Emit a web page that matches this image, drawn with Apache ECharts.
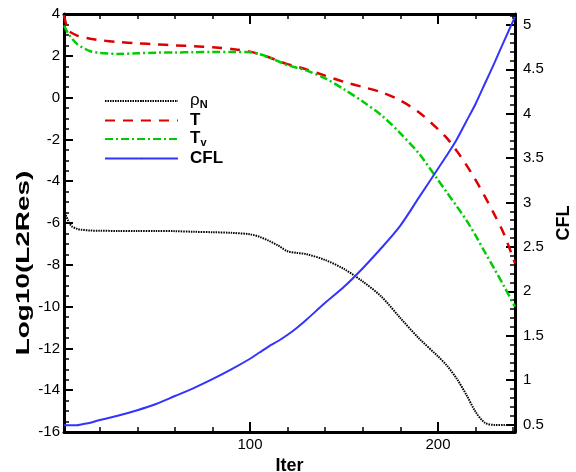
<!DOCTYPE html>
<html>
<head>
<meta charset="utf-8">
<script src="https://cdn.jsdelivr.net/npm/echarts@6/dist/echarts.min.js"></script>
<style>
  html, body { margin: 0; padding: 0; background: #fff; }
  #chart { width: 576px; height: 472px; }
</style>
</head>
<body>
<div id="chart"></div>
<script>
// Residual history: iteration numbers and the quantities sampled at them
const iters = [1, 3, 5, 8, 10, 15, 20, 30, 40, 50, 60, 70, 80, 90, 100, 105, 110, 115, 120, 125,
               130, 140, 150, 160, 170, 180, 190, 200, 205, 210, 215, 220, 225, 230, 235, 241];
const rhoN = [-5.4, -5.85, -6.15, -6.28, -6.32, -6.36, -6.37, -6.38, -6.38, -6.38, -6.39, -6.42,
              -6.44, -6.47, -6.54, -6.66, -6.85, -7.08, -7.35, -7.43, -7.49, -7.77, -8.2, -8.8,
              -9.53, -10.55, -11.53, -12.38, -12.85, -13.45, -14.2, -15.03, -15.56, -15.66, -15.66, -15.66];
const tRes = [3.95, 3.25, 3.1, 2.97, 2.91, 2.82, 2.75, 2.66, 2.6, 2.55, 2.5, 2.46, 2.41, 2.33, 2.2,
              2.08, 1.93, 1.76, 1.6, 1.48, 1.35, 1.05, 0.75, 0.51, 0.25, -0.14, -0.71, -1.51, -1.96,
              -2.55, -3.21, -3.94, -4.74, -5.59, -6.5, -7.93];
const tvRes = [3.45, 3.1, 2.85, 2.56, 2.44, 2.22, 2.14, 2.09, 2.12, 2.15, 2.16, 2.17, 2.18, 2.18, 2.17,
               2.08, 1.93, 1.74, 1.55, 1.42, 1.3, 0.92, 0.4, -0.19, -0.85, -1.71, -2.69, -3.94, -4.57,
               -5.2, -5.85, -6.59, -7.4, -8.19, -9.0, -10.0];
const cfl = [0.49, 0.49, 0.49, 0.49, 0.5, 0.52, 0.55, 0.6, 0.66, 0.73, 0.82, 0.91, 1.01, 1.12, 1.24,
             1.31, 1.38, 1.44, 1.51, 1.59, 1.68, 1.87, 2.05, 2.26, 2.49, 2.74, 3.06, 3.38, 3.54, 3.71,
             3.91, 4.11, 4.34, 4.57, 4.81, 5.09];

const FONT = 'Liberation Sans, Arial, sans-serif';
const ITER_MIN = 1, ITER_MAX = 241;
const RES_MIN = -16, RES_MAX = 4;
const CFL_MIN = 0.415, CFL_MAX = 5.123;

const pairs = (ys) => iters.map((x, i) => [x, ys[i]]);

// Label only ticks on whole steps; the axis-end ticks stay unlabeled
const stepLabel = (step) => (v) => {
  const k = v / step;
  return Math.abs(k - Math.round(k)) < 1e-6 ? String(Math.round(v * 10) / 10) : '';
};

const labelFont = { color: '#000', fontSize: 15, fontFamily: FONT };
const nameFont = { color: '#000', fontSize: 18, fontWeight: 'bold', fontFamily: FONT };

// Framed iteration axis with inward major (100) and minor (20) ticks
function iterAxis(pos) {
  const a = {
    type: 'value', position: pos, min: ITER_MIN, max: ITER_MAX, splitNumber: 2,
    axisLine: { show: true, onZero: false, lineStyle: { color: '#000', width: 3 } },
    axisTick: { show: true, inside: true, length: 10, lineStyle: { color: '#000', width: 2 } },
    minorTick: { show: true, splitNumber: 5, length: 5, lineStyle: { color: '#000', width: 1.5 } },
    axisLabel: Object.assign({ show: pos === 'bottom', margin: 5, formatter: stepLabel(100) }, labelFont),
    splitLine: { show: false }
  };
  if (pos === 'bottom') {
    a.name = 'Iter'; a.nameLocation = 'middle'; a.nameGap = 21; a.nameTextStyle = nameFont;
  }
  return a;
}

const legendNames = { 'ρN': '{r|ρ}{s|N}', 'T': '{b|T}', 'Tv': '{b|T}{s|v}', 'CFL': '{b|CFL}' };

const option = {
  animation: false,
  grid: { left: 64, right: 61, top: 14, bottom: 40, outerBoundsMode: 'none' },
  xAxis: [iterAxis('bottom'), iterAxis('top')],
  yAxis: [
    {
      type: 'value', position: 'left', min: RES_MIN, max: RES_MAX, interval: 2,
      axisLine: { show: true, onZero: false, lineStyle: { color: '#000', width: 3 } },
      axisTick: { show: true, inside: true, length: 9, lineStyle: { color: '#000', width: 2 } },
      minorTick: { show: true, splitNumber: 4, length: 5, lineStyle: { color: '#000', width: 1.5 } },
      axisLabel: Object.assign({ margin: 4 }, labelFont),
      splitLine: { show: false }
    },
    {
      type: 'value', position: 'right', min: CFL_MIN, max: CFL_MAX, splitNumber: 10,
      axisLine: { show: true, onZero: false, lineStyle: { color: '#000', width: 3 } },
      axisTick: { show: true, inside: true, length: 9, lineStyle: { color: '#000', width: 2 } },
      minorTick: { show: true, splitNumber: 5, length: 5, lineStyle: { color: '#000', width: 1.5 } },
      axisLabel: Object.assign({ margin: 8, formatter: stepLabel(0.5) }, labelFont),
      splitLine: { show: false },
      name: 'CFL', nameLocation: 'middle', nameRotate: 90, nameGap: 32, nameTextStyle: nameFont
    }
  ],
  legend: {
    orient: 'vertical', left: 99, top: 87, itemWidth: 73, itemHeight: 2, itemGap: 1.5,
    selectedMode: false,
    data: ['ρN', 'T', 'Tv', 'CFL'],
    formatter: (name) => legendNames[name],
    textStyle: {
      color: '#000', fontFamily: FONT,
      rich: {
        r: { fontSize: 17, lineHeight: 18, fontFamily: FONT, color: '#000', padding: [0, 0, 0, 7], verticalAlign: 'top' },
        b: { fontSize: 17, lineHeight: 18, fontWeight: 'bold', fontFamily: FONT, color: '#000', padding: [0, 0, 0, 7], verticalAlign: 'top' },
        s: { fontSize: 11, lineHeight: 11, fontWeight: 'bold', fontFamily: FONT, color: '#000', padding: [7, 0, 0, 0], verticalAlign: 'top' }
      }
    }
  },
  graphic: [
    {
      type: 'text', x: 24, y: 263, rotation: Math.PI / 2, scaleX: 1.55,
      style: { text: 'Log10(L2Res)', font: 'bold 18px Liberation Sans, Arial, sans-serif',
               fill: '#000', align: 'center', verticalAlign: 'middle' }
    }
  ],
  series: [
    {
      name: 'ρN', type: 'line', xAxisIndex: 0, yAxisIndex: 0, data: pairs(rhoN),
      symbol: 'none', smooth: 0.3,
      lineStyle: { color: '#000', width: 2, type: [1.5, 1] }, itemStyle: { color: '#000' }
    },
    {
      name: 'T', type: 'line', xAxisIndex: 0, yAxisIndex: 0, data: pairs(tRes),
      symbol: 'none', smooth: 0.3,
      lineStyle: { color: '#dd0000', width: 2.5, type: [10, 8] }, itemStyle: { color: '#dd0000' }
    },
    {
      name: 'Tv', type: 'line', xAxisIndex: 0, yAxisIndex: 0, data: pairs(tvRes),
      symbol: 'none', smooth: 0.3,
      lineStyle: { color: '#00cc00', width: 2.5, type: [8, 3, 2, 3] }, itemStyle: { color: '#00cc00' }
    },
    {
      name: 'CFL', type: 'line', xAxisIndex: 0, yAxisIndex: 1, data: pairs(cfl),
      symbol: 'none', smooth: 0.3,
      lineStyle: { color: '#3333ff', width: 2 }, itemStyle: { color: '#3333ff' }
    }
  ]
};

const chart = echarts.init(document.getElementById('chart'));
chart.setOption(option);
</script>
</body>
</html>
